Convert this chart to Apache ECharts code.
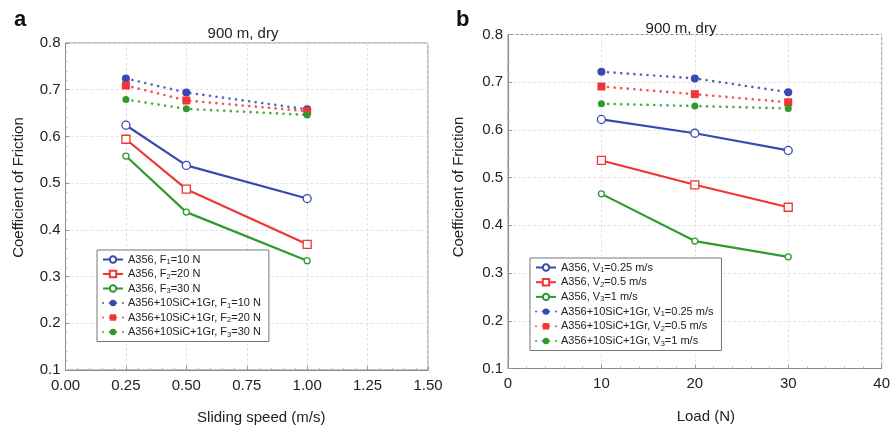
<!DOCTYPE html>
<html><head><meta charset="utf-8">
<script src="https://cdn.jsdelivr.net/npm/echarts@6/dist/echarts.min.js"></script>
<style>html,body{margin:0;padding:0;background:#fff}#c{width:893px;height:432px}</style>
</head><body><div id="c"></div>
<script>
// ---- data ----
const speedA = [0.25, 0.5, 1.0];
const loadB = [10, 20, 30];
const namesA = ['A356, F₁=10 N','A356, F₂=20 N','A356, F₃=30 N',
  'A356+10SiC+1Gr, F₁=10 N','A356+10SiC+1Gr, F₂=20 N','A356+10SiC+1Gr, F₃=30 N'];
const namesB = ['A356, V₁=0.25 m/s','A356, V₂=0.5 m/s','A356, V₃=1 m/s',
  'A356+10SiC+1Gr, V₁=0.25 m/s','A356+10SiC+1Gr, V₂=0.5 m/s','A356+10SiC+1Gr, V₃=1 m/s'];
const a_A356_F1 = [0.624, 0.538, 0.467];
const a_A356_F2 = [0.594, 0.487, 0.369];
const a_A356_F3 = [0.558, 0.438, 0.334];
const a_Comp_F1 = [0.724, 0.694, 0.658];
const a_Comp_F2 = [0.709, 0.677, 0.654];
const a_Comp_F3 = [0.679, 0.659, 0.646];
const b_A356_V1 = [0.622, 0.593, 0.557];
const b_A356_V2 = [0.536, 0.485, 0.438];
const b_A356_V3 = [0.466, 0.367, 0.334];
const b_Comp_V1 = [0.722, 0.708, 0.679];
const b_Comp_V2 = [0.691, 0.675, 0.658];
const b_Comp_V3 = [0.655, 0.650, 0.645];
const title = '900 m, dry';
const yName = 'Coefficient of Friction';
const xNameA = 'Sliding speed (m/s)';
const xNameB = 'Load (N)';

// ---- styles ----
const FONT = '"Liberation Sans", Arial, Helvetica, sans-serif';
const BLUE = '#3a49b0', RED = '#f03535', GREEN = '#2f9a2f';
const colors = [BLUE, RED, GREEN];
const openSym = ['circle', 'rect', 'circle'];
const openSize = [8, 8, 6];
const fillSym = ['circle', 'rect', 'circle'];
const fillSize = [8, 8, 7];
const SUB = {'₁':'1','₂':'2','₃':'3'};

function pairs(xs, ys){ return xs.map((x,i)=>[x, ys[i]]); }
function legendFmt(name){ return name.replace(/[₁₂₃]/g, c => '{s|' + SUB[c] + '}').replace(/([^}]+?)(?=\{s\||$)/g, '{t|$1}'); }

function mkSeries(idx, xs, solidData, dotData, names){
  const out = [];
  solidData.forEach((d,i)=>{
    out.push({type:'line', name:names[i], xAxisIndex:idx, yAxisIndex:idx,
      data:pairs(xs,d), symbol:openSym[i], symbolSize:openSize[i], showAllSymbol:true,
      lineStyle:{color:colors[i], width:2.2},
      itemStyle:{color:'#fff', borderColor:colors[i], borderWidth:1.3},
      z:3, animation:false});
  });
  dotData.forEach((d,i)=>{
    out.push({type:'line', name:names[i+3], xAxisIndex:idx, yAxisIndex:idx,
      data:pairs(xs,d), symbol:fillSym[i], symbolSize:fillSize[i],
      lineStyle:{color:colors[i], width:2.6, type:[0.1,6.5], cap:'round', opacity:0.85},
      itemStyle:{color:colors[i], borderWidth:0},
      z:4, animation:false});
  });
  return out;
}

const axisLabelStyle = {color:'#222', fontSize:15, fontFamily:FONT};
function yAxisCfg(idx, gap, pad){
  return {type:'value', gridIndex:idx, min:0.1, max:0.8, interval:0.1,
    name:yName, nameLocation:'middle', nameGap:gap,
    nameTextStyle:{color:'#222', fontSize:15, fontFamily:FONT, padding:[0,0,0,pad]},
    axisLine:{show:true, lineStyle:{color:'#8a8a8a'}},
    axisTick:{show:true, inside:true, length:4, lineStyle:{color:'#999'}},
    minorTick:{show:true, splitNumber:5, length:2, lineStyle:{color:'#bbb'}},
    splitLine:{show:true, lineStyle:{color:'#e2e2e2', type:[3,2]}},
    axisLabel:Object.assign({margin:5, formatter:v=>v.toFixed(1)}, axisLabelStyle)};
}
const legendText = {fontSize:11, color:'#222', fontFamily:FONT,
  rich:{t:{fontSize:11, color:'#222', fontFamily:FONT, lineHeight:13, verticalAlign:'middle'},
        s:{fontSize:7.5, color:'#222', fontFamily:FONT, lineHeight:13, padding:[5,0,0,0], verticalAlign:'middle'}}};

const chart = echarts.init(document.getElementById('c'), null, {renderer:'canvas'});
chart.setOption({
  backgroundColor:'#fff',
  animation:false,
  textStyle:{fontFamily:FONT},
  title:[
    {text:'a', left:9, top:4, textStyle:{fontSize:22, fontWeight:'bold', color:'#111', fontFamily:FONT}},
    {text:'b', left:451, top:4, textStyle:{fontSize:22, fontWeight:'bold', color:'#111', fontFamily:FONT}},
    {text:title, left:238, top:21, textAlign:'center', textStyle:{fontSize:15, fontWeight:'normal', color:'#222', fontFamily:FONT}},
    {text:title, left:676, top:16, textAlign:'center', textStyle:{fontSize:15, fontWeight:'normal', color:'#222', fontFamily:FONT}}
  ],
  grid:[
    {left:65.5, right:465, top:43, bottom:62, show:true, borderColor:'#8a8a8a', borderWidth:1, backgroundColor:'#fff'},
    {left:508, right:11, top:34.5, bottom:63.5, show:true, borderColor:'#8a8a8a', borderWidth:1, backgroundColor:'#fff'}
  ],
  xAxis:[
    {type:'value', gridIndex:0, min:0, max:1.5, interval:0.25,
      name:xNameA, nameLocation:'middle', nameGap:40,
      nameTextStyle:{color:'#222', fontSize:15, fontFamily:FONT, padding:[0,0,0,29]},
      axisLine:{show:true, lineStyle:{color:'#8a8a8a'}},
      axisTick:{show:true, inside:true, length:4, lineStyle:{color:'#999'}},
      minorTick:{show:true, splitNumber:5, length:2, lineStyle:{color:'#bbb'}},
      splitLine:{show:true, lineStyle:{color:'#e2e2e2', type:[3,2]}},
      axisLabel:Object.assign({margin:8, formatter:v=>v.toFixed(2)}, axisLabelStyle)},
    {type:'value', gridIndex:1, min:0, max:40, interval:10,
      name:xNameB, nameLocation:'middle', nameGap:41,
      nameTextStyle:{color:'#222', fontSize:15, fontFamily:FONT, padding:[0,0,0,22]},
      axisLine:{show:true, lineStyle:{color:'#8a8a8a'}},
      axisTick:{show:true, inside:true, length:4, lineStyle:{color:'#999'}},
      minorTick:{show:true, splitNumber:5, length:2, lineStyle:{color:'#bbb'}},
      splitLine:{show:true, lineStyle:{color:'#e2e2e2', type:[3,2]}},
      axisLabel:Object.assign({margin:8}, axisLabelStyle)}
  ],
  yAxis:[ yAxisCfg(0, 39, 38), yAxisCfg(1, 42, 29) ],
  legend:[
    {data:namesA, orient:'vertical', left:97, top:250, itemWidth:20, itemHeight:8, itemGap:1.5,
      padding:[3,8,3,5], backgroundColor:'#fff', borderColor:'#777', borderWidth:1,
      formatter:legendFmt, textStyle:legendText, selectedMode:false},
    {data:namesB, orient:'vertical', left:530, top:258, itemWidth:20, itemHeight:8, itemGap:1.7,
      padding:[3,8,3,5], backgroundColor:'#fff', borderColor:'#777', borderWidth:1,
      formatter:legendFmt, textStyle:legendText, selectedMode:false}
  ],
  series:[].concat(
    mkSeries(0, speedA, [a_A356_F1,a_A356_F2,a_A356_F3], [a_Comp_F1,a_Comp_F2,a_Comp_F3], namesA),
    mkSeries(1, loadB, [b_A356_V1,b_A356_V2,b_A356_V3], [b_Comp_V1,b_Comp_V2,b_Comp_V3], namesB)
  )
});
</script></body></html>
